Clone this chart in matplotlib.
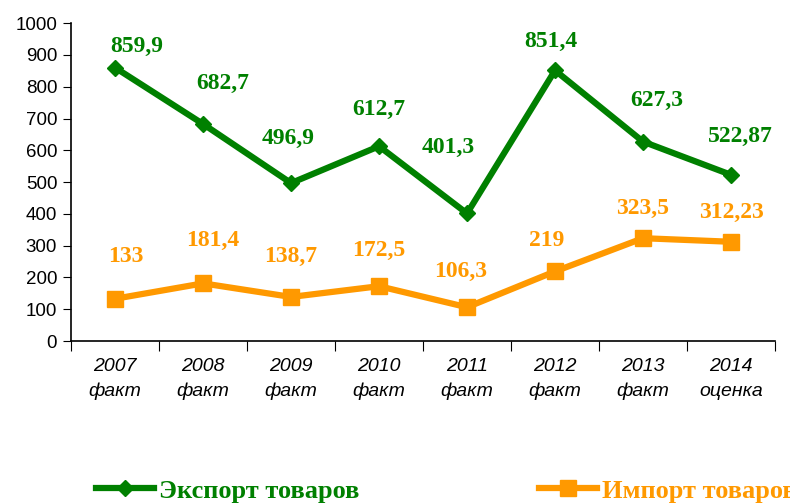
import matplotlib
matplotlib.use("Agg")
import matplotlib.pyplot as plt

# Данные
years = ["2007\nфакт", "2008\nфакт", "2009\nфакт", "2010\nфакт",
         "2011\nфакт", "2012\nфакт", "2013\nфакт", "2014\nоценка"]
export = [859.9, 682.7, 496.9, 612.7, 401.3, 851.4, 627.3, 522.87]
imports = [133, 181.4, 138.7, 172.5, 106.3, 219, 323.5, 312.23]
export_labels = ["859,9", "682,7", "496,9", "612,7", "401,3", "851,4", "627,3", "522,87"]
import_labels = ["133", "181,4", "138,7", "172,5", "106,3", "219", "323,5", "312,23"]

GREEN = "#008000"
ORANGE = "#FF9900"

# смещения подписей (в пикселях)
export_dx = [22, 20, -3, 0, -19, -4, 14, 9]
export_dy = [21, 41, 45, 37, 66, 29, 41, 38]
import_dx = [11, 10, 0, 0, -6, -8, 0, 0]
import_dy = [42, 43, 40, 36, 36, 31, 30, 29]

fig = plt.figure(figsize=(7.9, 5.03), dpi=100)
ax = fig.add_axes([0.090, 0.322, 0.891, 0.632])

x = list(range(len(years)))
l1, = ax.plot(x, export, color=GREEN, lw=4.5, marker="D", ms=8, clip_on=False)
l2, = ax.plot(x, imports, color=ORANGE, lw=4.5, marker="s", ms=11, clip_on=False)

px = 72 / 100
for i in x:
    ax.annotate(export_labels[i], (i, export[i]), xytext=(export_dx[i] * px, export_dy[i] * px),
                textcoords="offset points", ha="center", va="center", color=GREEN,
                fontsize=17, fontweight="bold", family="Liberation Serif", annotation_clip=False)
    ax.annotate(import_labels[i], (i, imports[i]), xytext=(import_dx[i] * px, import_dy[i] * px),
                textcoords="offset points", ha="center", va="center", color=ORANGE,
                fontsize=17, fontweight="bold", family="Liberation Serif", annotation_clip=False)

ax.set_xlim(-0.5, 7.5)
ax.set_ylim(0, 1000)
ax.set_yticks(range(0, 1001, 100))
ax.tick_params(axis="y", labelsize=13.5, length=6, direction="out", pad=4)
for lbl in ax.get_yticklabels():
    lbl.set_family("Liberation Sans")

ax.set_xticks([i - 0.5 for i in range(len(years) + 1)])
ax.set_xticklabels([])
ax.set_xticks(x, minor=True)
ax.set_xticklabels(years, minor=True, fontsize=14, style="italic",
                   family="Liberation Sans", linespacing=1.6)
ax.tick_params(axis="x", which="major", length=7, direction="out")
ax.tick_params(axis="x", which="minor", length=0, pad=12)

for s in ["top", "right"]:
    ax.spines[s].set_visible(False)
ax.spines["left"].set_linewidth(1.2)
ax.spines["bottom"].set_linewidth(1.2)

legend_font = {"family": "Liberation Serif", "weight": "bold", "size": 19}
for line, name, color, xpos in [(l1, "Экспорт товаров", GREEN, 0.121),
                                (l2, "Импорт товаров", ORANGE, 0.682)]:
    leg = fig.legend([line], [name], loc="center left", bbox_to_anchor=(xpos, 0.024),
                     frameon=False, borderpad=0, borderaxespad=0,
                     handlelength=2.2, handletextpad=0.2, prop=legend_font)
    leg.get_texts()[0].set_color(color)

fig.savefig("out.png", dpi=100)
